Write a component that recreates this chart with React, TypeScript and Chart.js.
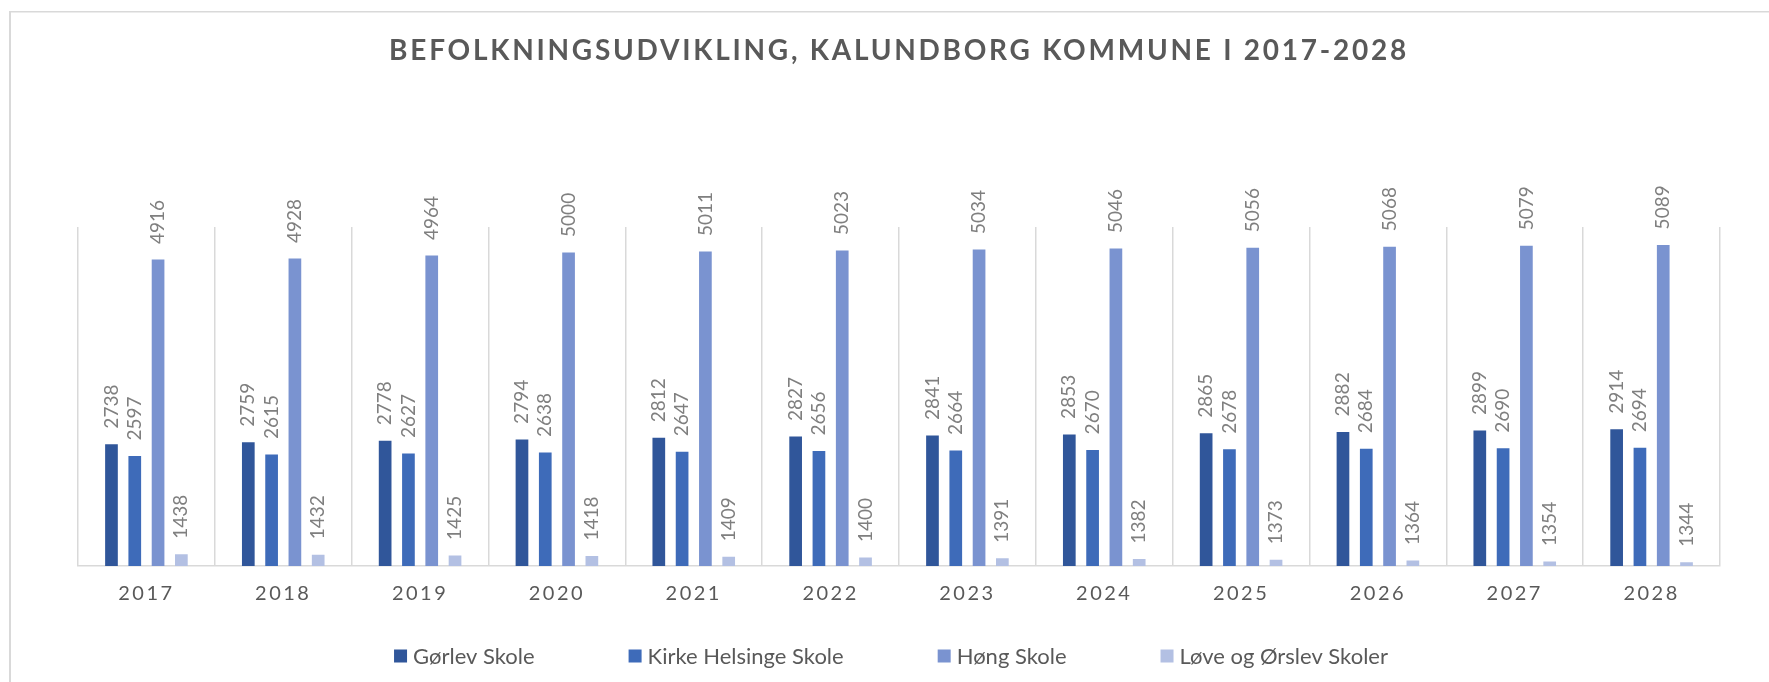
import { useEffect, useRef } from "react";
import { Chart, registerables } from "chart.js";

Chart.register(...registerables);

const years = ["2017", "2018", "2019", "2020", "2021", "2022", "2023", "2024", "2025", "2026", "2027", "2028"];
const gorlev = [2738, 2759, 2778, 2794, 2812, 2827, 2841, 2853, 2865, 2882, 2899, 2914];
const kirkeHelsinge = [2597, 2615, 2627, 2638, 2647, 2656, 2664, 2670, 2678, 2684, 2690, 2694];
const hong = [4916, 4928, 4964, 5000, 5011, 5023, 5034, 5046, 5056, 5068, 5079, 5089];
const loveOrslev = [1438, 1432, 1425, 1418, 1409, 1400, 1391, 1382, 1373, 1364, 1354, 1344];
const seriesNames = ["Gørlev Skole", "Kirke Helsinge Skole", "Høng Skole", "Løve og Ørslev Skoler"];
const seriesColors = ["#30569A", "#3E6BB9", "#7A93D0", "#B3C0E3"];
const titleText = "BEFOLKNINGSUDVIKLING, KALUNDBORG KOMMUNE I 2017-2028";

const W = 1769;
const H = 682;

export default function App() {
  const ref = useRef<HTMLCanvasElement>(null);

  useEffect(() => {
    document.body.style.margin = "0";
    const canvas = ref.current!;

    const framePlugin = {
      id: "frame",
      beforeDraw(chart: any) {
        const c = chart.ctx;
        c.save();
        c.fillStyle = "#ffffff";
        c.fillRect(0, 0, W, H);
        c.fillStyle = "#d9d9d9";
        c.fillRect(9, 11, 2, H);
        c.fillRect(9, 11, W, 1.5);
        c.restore();
        const sx = chart.scales.x;
        if (sx && !sx.__ls) {
          const orig = sx.drawLabels.bind(sx);
          sx.drawLabels = (a: any) => {
            c.save();
            c.letterSpacing = "2.5px";
            orig(a);
            c.restore();
          };
          sx.__ls = true;
        }
        const tb = chart.titleBlock;
        if (tb && !tb.__ls) {
          const origT = tb.draw.bind(tb);
          tb.draw = (a: any) => {
            c.save();
            c.letterSpacing = "2.75px";
            origT(a);
            c.restore();
          };
          tb.__ls = true;
        }
      },
    };

    const labelPlugin = {
      id: "barLabels",
      afterDatasetsDraw(chart: any) {
        const c = chart.ctx;
        c.save();
        c.font = "19px Lato";
        c.fillStyle = "#7f7f7f";
        c.textAlign = "left";
        c.textBaseline = "middle";
        chart.data.datasets.forEach((ds: any, i: number) => {
          const meta = chart.getDatasetMeta(i);
          meta.data.forEach((bar: any, j: number) => {
            const p = bar.getProps(["x", "y"], true);
            c.save();
            c.translate(p.x, p.y - 15.5);
            c.rotate(-Math.PI / 2);
            c.fillText(String(ds.data[j]), 0, 0);
            c.restore();
          });
        });
        c.restore();
      },
    };

    const legendPlugin = {
      id: "customLegend",
      afterDraw(chart: any) {
        const c = chart.ctx;
        c.save();
        c.font = "22px Lato";
        c.textBaseline = "middle";
        c.textAlign = "left";
        const box = 13;
        const textGap = 6;
        const itemGap = 94;
        const ds = chart.data.datasets;
        const widths = ds.map((d: any) => box + textGap + c.measureText(d.label).width);
        const total = widths.reduce((a: number, b: number) => a + b, 0) + itemGap * (ds.length - 1);
        const cx = (chart.chartArea.left + chart.chartArea.right) / 2 - 8;
        let x = cx - total / 2;
        const y = 656;
        ds.forEach((d: any, i: number) => {
          c.fillStyle = d.backgroundColor;
          c.fillRect(x, y - box / 2, box, box);
          c.fillStyle = "#595959";
          c.fillText(d.label, x + box + textGap, y + 1);
          x += widths[i] + itemGap;
        });
        c.restore();
      },
    };

    const seriesData = [gorlev, kirkeHelsinge, hong, loveOrslev];

    const chart = new Chart(canvas, {
      type: "bar",
      data: {
        labels: years,
        datasets: seriesNames.map((name, i) => ({
          label: name,
          data: seriesData[i],
          backgroundColor: seriesColors[i],
          borderWidth: 0,
          barPercentage: 0.545,
          categoryPercentage: 0.681,
        })),
      },
      options: {
        responsive: false,
        animation: false,
        devicePixelRatio: 1,
        layout: { padding: { left: 78, right: 49, top: 0, bottom: 61.4 } },
        plugins: {
          legend: { display: false },
          tooltip: { enabled: false },
          title: {
            display: true,
            text: titleText,
            color: "#595959",
            font: { family: "Lato", size: 28, weight: "bold" },
            padding: { top: 34, bottom: 159.4 },
          },
        },
        scales: {
          x: {
            offset: true,
            grid: { display: true, color: "#d9d9d9", lineWidth: 1.5, drawTicks: false, offset: true },
            border: { display: true, color: "#d9d9d9", width: 1.5 },
            ticks: { color: "#595959", font: { family: "Lato", size: 20 }, padding: 15.3, maxRotation: 0 },
          },
          y: {
            display: false,
            min: 1300,
            max: 5300,
          },
        },
      },
      plugins: [framePlugin, labelPlugin, legendPlugin],
    } as any);

    return () => chart.destroy();
  }, []);

  return (
    <div style={{ width: W, height: H }}>
      <canvas ref={ref} width={W} height={H} style={{ display: "block", width: W, height: H }} />
    </div>
  );
}
